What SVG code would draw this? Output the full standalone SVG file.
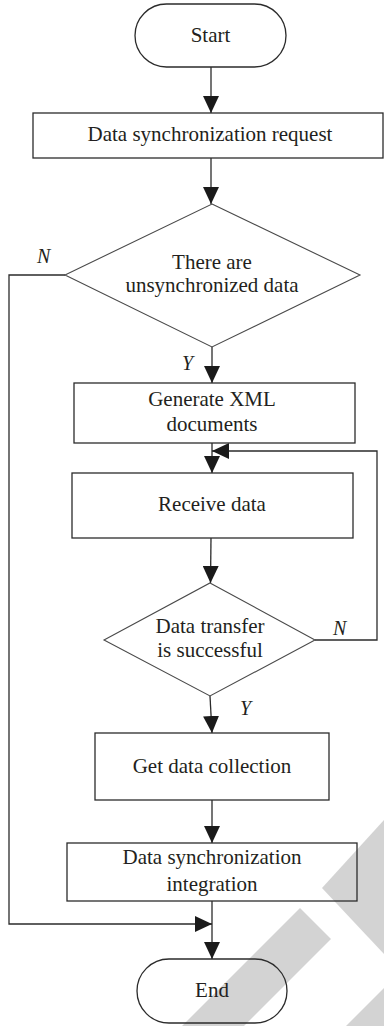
<svg xmlns="http://www.w3.org/2000/svg" width="384" height="1026" viewBox="0 0 384 1026">
  <style>
    .node { fill: none; stroke: #2b2b2b; stroke-width: 1.3; }
    .dec { fill: none; stroke: #4a4a4a; stroke-width: 1.1; }
    .lbl { font-family: "Liberation Serif", "Times New Roman", serif; font-size: 21px; fill: #231f20; text-anchor: middle; }
    .yn { font-family: "Liberation Serif", "Times New Roman", serif; font-size: 20px; font-style: italic; fill: #231f20; }
    .conn { fill: none; stroke: #2b2b2b; stroke-width: 1.3; marker-end: url(#arrow); }
    .band { fill: #d3d3d3; stroke: none; }
  </style>
  <defs>
    <marker id="arrow" markerUnits="userSpaceOnUse" markerWidth="18" markerHeight="16" refX="17" refY="8" orient="auto">
      <path d="M0,0 L17,8 L0,16 z" fill="#1a1a1a"/>
    </marker>
  </defs>
  <rect width="384" height="1026" fill="#ffffff"/>

  <!-- diagonal grey bands in the lower right corner -->
  <g id="bands">
    <polygon class="band" points="384,820 322,888 384,954"/>
    <polygon class="band" points="300,908 331,939 244,1026 182,1026"/>
    <polygon class="band" points="346,1026 384,988 384,1026"/>
  </g>

  <g id="connectors">
    <path class="conn" d="M211,67 V113"/>
    <path class="conn" d="M211,158 V204"/>
    <path class="conn" d="M212,347 V383"/>
    <path class="conn" d="M212,443 V473"/>
    <path class="conn" d="M211,538 L210.5,583"/>
    <path class="conn" d="M210,696 L212,733"/>
    <path class="conn" d="M212,800 V843"/>
    <path class="conn" d="M212,901 V959"/>
    <path class="conn" d="M65,275 H9 V924 H212"/>
    <path class="conn" d="M315,640 H377 V451 H212"/>
    <text class="yn" x="37" y="263">N</text>
    <text class="yn" x="182" y="370">Y</text>
    <text class="yn" x="333" y="635">N</text>
    <text class="yn" x="240" y="715">Y</text>
  </g>

  <g id="start">
    <rect class="node" x="135" y="4" width="151" height="63" rx="31.5"/>
    <text class="lbl" x="210.5" y="42">Start</text>
  </g>

  <g id="sync-request">
    <rect class="node" x="33" y="113" width="350" height="45"/>
    <text class="lbl" x="210" y="141">Data synchronization request</text>
  </g>

  <g id="has-unsync">
    <polygon class="dec" points="212,204 360,275 212,347 65,275"/>
    <text class="lbl" x="212" y="269">There are</text>
    <text class="lbl" x="212" y="292">unsynchronized data</text>
  </g>

  <g id="generate-xml">
    <rect class="node" x="74" y="383" width="281" height="60"/>
    <text class="lbl" x="212" y="406">Generate XML</text>
    <text class="lbl" x="212" y="430.5">documents</text>
  </g>

  <g id="receive">
    <rect class="node" x="72" y="473" width="281" height="65"/>
    <text class="lbl" x="212" y="510.5">Receive data</text>
  </g>

  <g id="transfer-ok">
    <polygon class="dec" points="210,583 315,640 210,696 104,640"/>
    <text class="lbl" x="210" y="632.5">Data transfer</text>
    <text class="lbl" x="210" y="657">is successful</text>
  </g>

  <g id="collect">
    <rect class="node" x="95" y="733" width="234" height="67"/>
    <text class="lbl" x="212" y="772.5">Get data collection</text>
  </g>

  <g id="integrate">
    <rect class="node" x="67" y="843" width="290" height="58"/>
    <text class="lbl" x="212" y="864">Data synchronization</text>
    <text class="lbl" x="212" y="890.5">integration</text>
  </g>

  <g id="end">
    <rect class="node" x="137" y="959" width="150" height="64" rx="32"/>
    <text class="lbl" x="212" y="996.5">End</text>
  </g>
</svg>
